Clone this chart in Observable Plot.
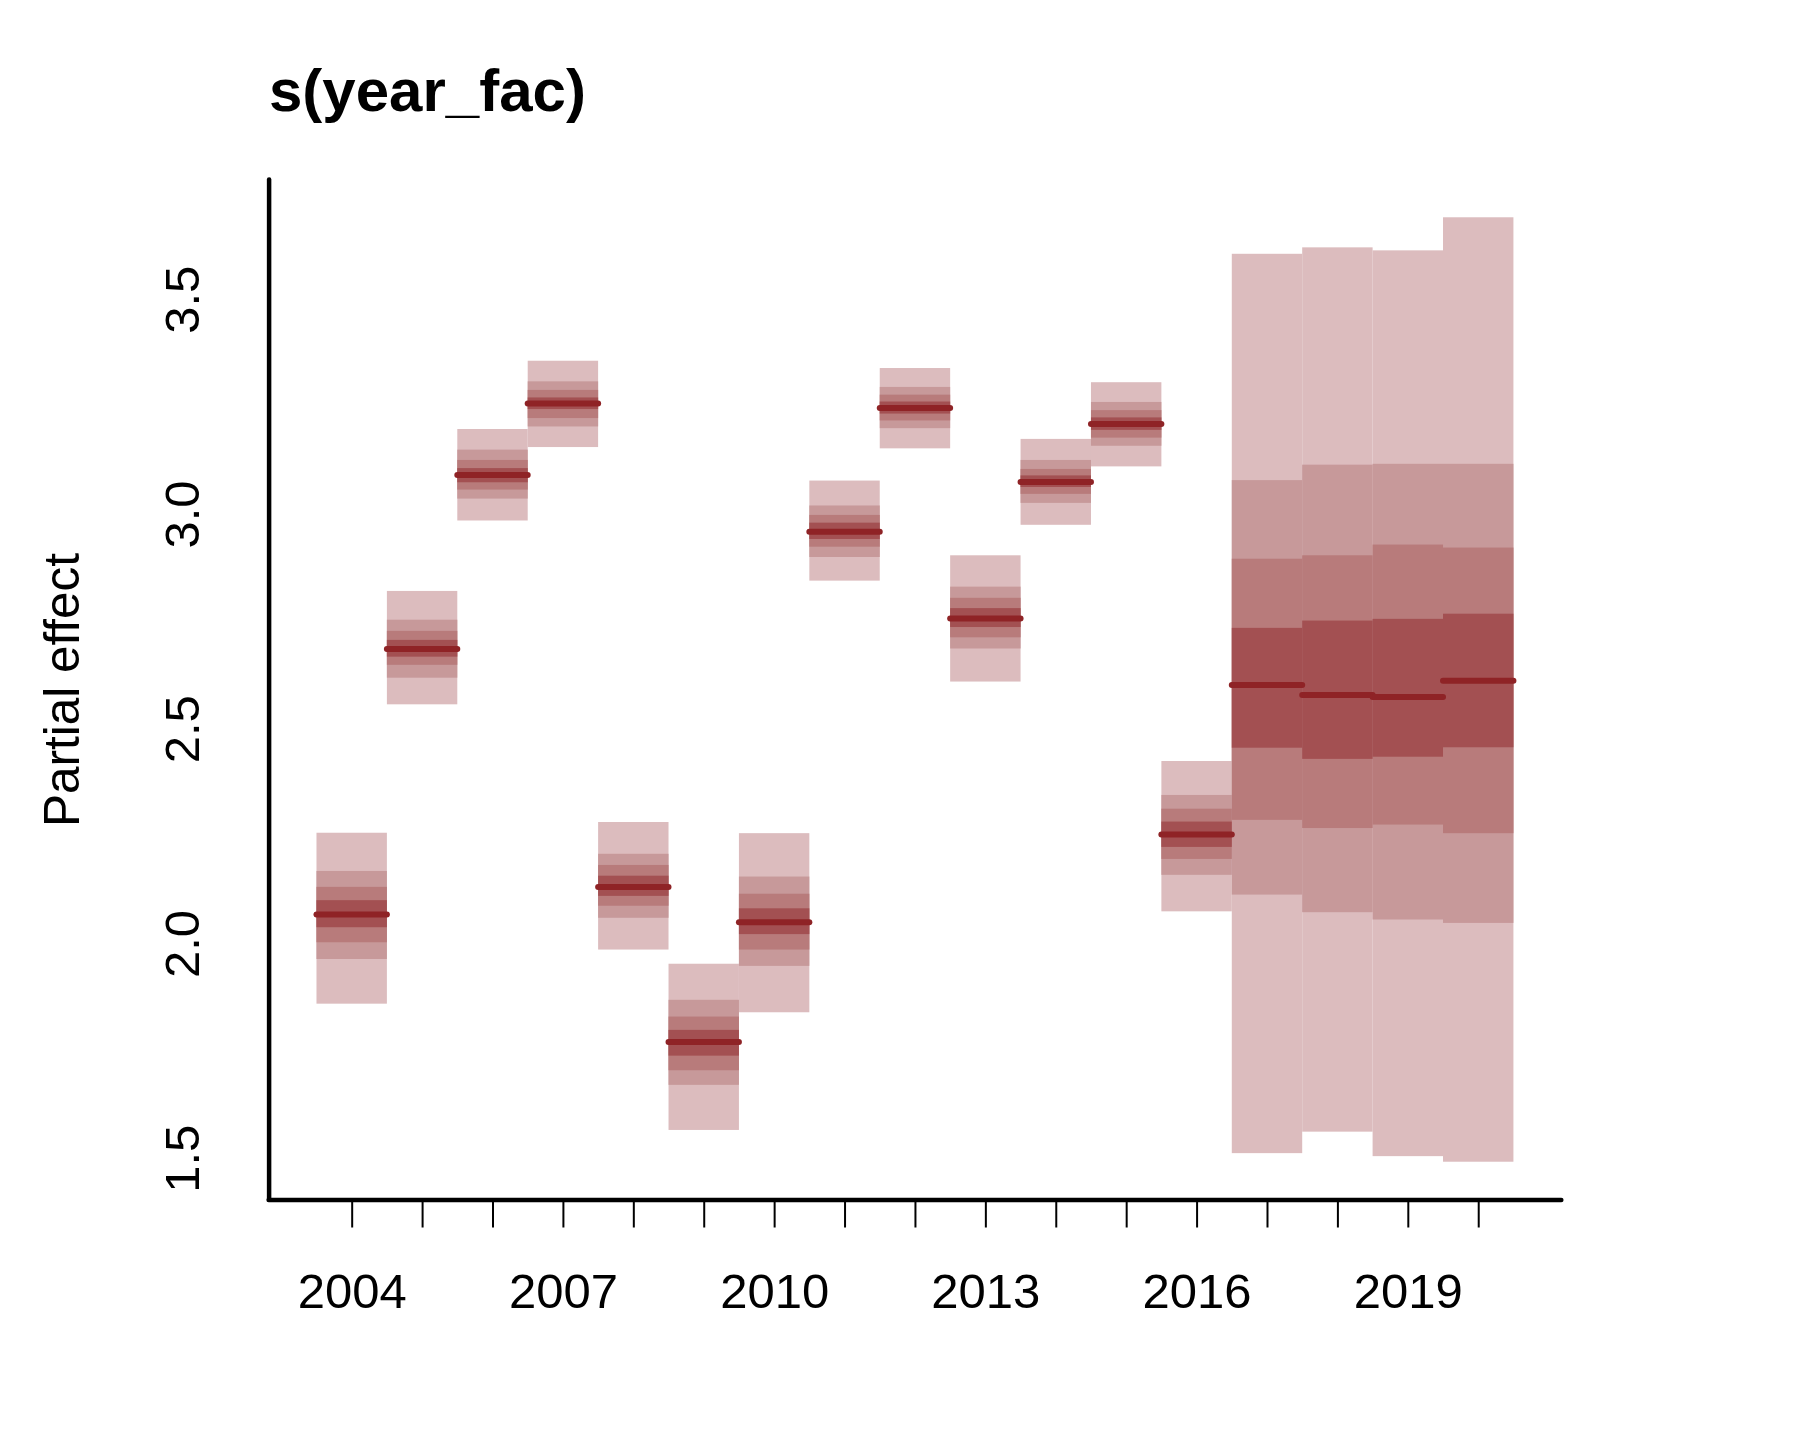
<!DOCTYPE html>
<html>
<head>
<meta charset="utf-8">
<script src="https://cdn.jsdelivr.net/npm/d3@7"></script>
<script src="https://cdn.jsdelivr.net/npm/@observablehq/plot@0.6"></script>
<style>
  html, body { margin: 0; padding: 0; background: #ffffff; }
  #wrap { position: relative; width: 1800px; height: 1440px; background: #ffffff; }
  #title {
    position: absolute; left: 269px; top: 61px; margin: 0;
    font-family: "Liberation Sans", Arial, Helvetica, sans-serif;
    font-weight: bold; font-size: 60px; line-height: 1; color: #000;
  }
  #chart { position: absolute; left: 0; top: 0; }
</style>
</head>
<body>
<div id="wrap">
  <div id="chart"></div>
  <div id="title">s(year_fac)</div>
</div>
<script>
// ---- data ----
const years = [2004, 2005, 2006, 2007, 2008, 2009, 2010, 2011, 2012, 2013, 2014, 2015, 2016, 2017, 2018, 2019, 2020];
const meanEffect = [2.069, 2.687, 3.092, 3.2585, 2.133, 1.772, 2.051, 2.960, 3.248, 2.758, 3.076, 3.211, 2.255, 2.603, 2.580, 2.575, 2.613];
// outermost (lightest) interval
const lower1 = [1.860, 2.557, 2.985, 3.156, 1.986, 1.566, 1.840, 2.845, 3.153, 2.610, 2.975, 3.111, 2.075, 1.512, 1.562, 1.505, 1.492];
const upper1 = [2.258, 2.821, 3.198, 3.357, 2.283, 1.953, 2.257, 3.078, 3.340, 2.904, 3.175, 3.307, 2.425, 3.606, 3.621, 3.614, 3.691];
// second interval
const lower2 = [1.964, 2.619, 3.036, 3.204, 2.060, 1.671, 1.948, 2.900, 3.200, 2.687, 3.026, 3.159, 2.160, 2.114, 2.073, 2.056, 2.048];
const upper2 = [2.169, 2.754, 3.150, 3.309, 2.209, 1.869, 2.156, 3.020, 3.296, 2.831, 3.126, 3.261, 2.346, 3.079, 3.115, 3.117, 3.117];
// third interval
const lower3 = [2.003, 2.649, 3.057, 3.2235, 2.088, 1.705, 1.986, 2.924, 3.218, 2.713, 3.047, 3.178, 2.197, 2.288, 2.269, 2.277, 2.257];
const upper3 = [2.132, 2.728, 3.126, 3.289, 2.183, 1.830, 2.116, 2.998, 3.278, 2.805, 3.105, 3.242, 2.314, 2.896, 2.904, 2.929, 2.922];
// innermost (darkest) interval
const lower4 = [2.038, 2.668, 3.074, 3.2445, 2.111, 1.739, 2.022, 2.942, 3.234, 2.737, 3.063, 3.196, 2.225, 2.456, 2.430, 2.435, 2.457];
const upper4 = [2.101, 2.707, 3.107, 3.2715, 2.158, 1.799, 2.082, 2.980, 3.262, 2.781, 3.090, 3.225, 2.284, 2.735, 2.752, 2.756, 2.768];

const xTickYears = years;
const xLabelYears = [2004, 2007, 2010, 2013, 2016, 2019];
const yTicks = [1.5, 2.0, 2.5, 3.0, 3.5];
const bandColors = ["#DCBCBE", "#C7999A", "#B87B7B", "#A35052"];
const lineColor = "#8F2326";

// ---- build table ----
const rows = years.map((year, i) => ({
  year, mean: meanEffect[i],
  lo: [lower1[i], lower2[i], lower3[i], lower4[i]],
  hi: [upper1[i], upper2[i], upper3[i], upper4[i]]
}));

// R-style 4% padded domains
const xr = [years[0] - 0.5, years[years.length - 1] + 0.5];
const xpad = (xr[1] - xr[0]) * 0.04;
const xDomain = [xr[0] - xpad, xr[1] + xpad];
const yr = [d3.min(lower1), d3.max(upper1)];
const ypad = (yr[1] - yr[0]) * 0.04;
const yDomain = [yr[0] - ypad, yr[1] + ypad];

const font = "\"Liberation Sans\", Arial, Helvetica, sans-serif";

const bandMarks = [0, 1, 2, 3].map(k =>
  Plot.rect(rows, {
    x1: d => d.year - 0.5, x2: d => d.year + 0.5,
    y1: d => d.lo[k], y2: d => d.hi[k],
    fill: bandColors[k]
  })
);

const chart = Plot.plot({
  width: 1800,
  height: 1440,
  marginLeft: 268.6,
  marginRight: 238.7,
  marginTop: 179.5,
  marginBottom: 240.5,
  style: { fontFamily: font, background: "#ffffff", color: "#000" },
  x: { domain: xDomain, label: null },
  y: { domain: yDomain, label: null },
  marks: [
    ...bandMarks,
    Plot.ruleY(rows, {
      y: "mean", x1: d => d.year - 0.5, x2: d => d.year + 0.5,
      stroke: lineColor, strokeWidth: 6, strokeLinecap: "round"
    }),
    Plot.axisX(xTickYears, {
      tickSize: 28, tickPadding: 45, strokeWidth: 2, fontSize: 49,
      tickFormat: d => xLabelYears.includes(d) ? String(d) : "",
      label: null
    }),
    Plot.axisY(yTicks, {
      tickSize: 28, tickPadding: 42.6, strokeWidth: 2, fontSize: 49,
      rotate: -90, textAnchor: "middle", lineAnchor: "bottom",
      tickFormat: d => d.toFixed(1),
      label: null
    }),
    Plot.ruleX([xDomain[0]], { y1: yDomain[0], y2: yDomain[1], stroke: "#000", strokeWidth: 4.5, strokeLinecap: "round" }),
    Plot.ruleY([yDomain[0]], { x1: xDomain[0], x2: xDomain[1], stroke: "#000", strokeWidth: 4.5, strokeLinecap: "round" }),
    Plot.text(["Partial effect"], {
      text: d => d, frameAnchor: "left", dx: -190, rotate: -90,
      textAnchor: "middle", lineAnchor: "bottom", fontSize: 49.5, fill: "#000"
    })
  ]
});
document.getElementById("chart").appendChild(chart);
</script>
</body>
</html>
